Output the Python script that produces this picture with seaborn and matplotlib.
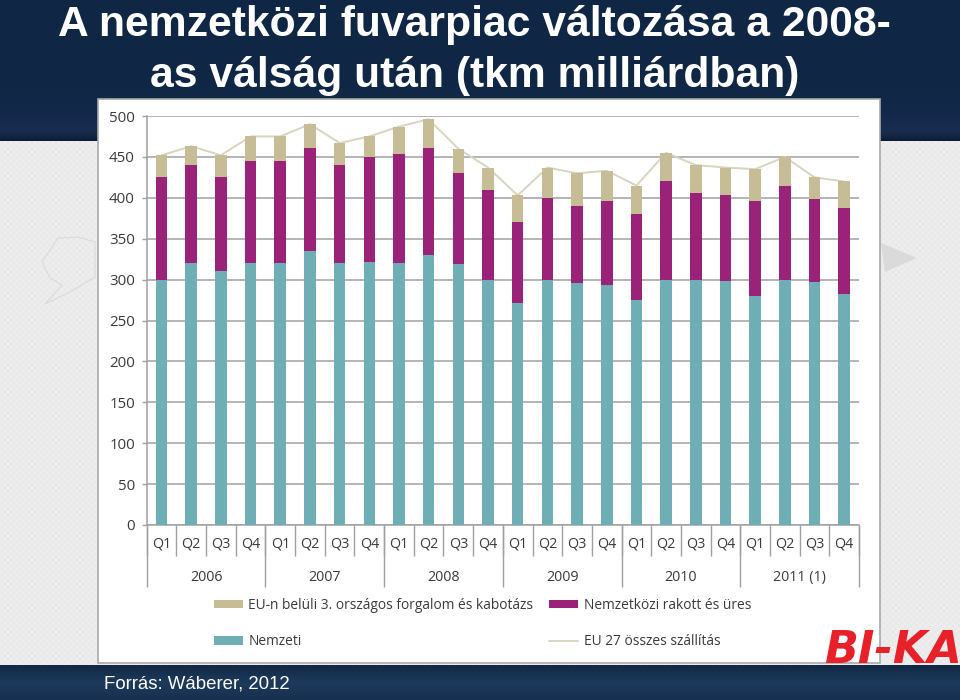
import numpy as np
import pandas as pd
import seaborn as sns
import matplotlib
matplotlib.use("Agg")
import matplotlib.pyplot as plt
from matplotlib.patches import Rectangle, Polygon

# chart values (tkm, cumulative tops)
years = ["2006", "2007", "2008", "2009", "2010", "2011 (1)"]
quarters = ["Q1", "Q2", "Q3", "Q4"]
nemzeti = [300, 320, 310, 320, 320, 335, 320, 322, 320, 330, 319, 300,
           271, 300, 296, 293, 275, 300, 300, 298, 280, 300, 297, 283]
nemzetkozi_top = [425, 440, 425, 445, 445, 461, 440, 450, 453, 461, 430, 410,
                  371, 400, 390, 396, 380, 420, 406, 403, 396, 415, 399, 388]
osszes = [452, 463, 452, 475, 475, 490, 467, 475, 487, 496, 460, 437,
          403, 437, 430, 433, 415, 455, 440, 437, 435, 450, 425, 420]
y_ticks = [0, 50, 100, 150, 200, 250, 300, 350, 400, 450, 500]

title_lines = ["A nemzetközi fuvarpiac változása a 2008-", "as válság után (tkm milliárdban)"]
source = "Forrás: Wáberer, 2012"

TEAL = "#6FAEB4"
PURPLE = "#9A2379"
TAN = "#C6BC95"
LINE = "#D8D5BE"
GRID = "#A0A0A0"
TXT = "#3A3A3A"

sns.set_theme(style="white")
plt.rcParams["font.family"] = ["Open Sans", "DejaVu Sans"]

df = pd.DataFrame({
    "negyedev": [f"{y} {q}" for y in years for q in quarters],
    "nemzeti": nemzeti,
    "nemzetkozi": np.array(nemzetkozi_top) - np.array(nemzeti),
    "kabotazs": np.array(osszes) - np.array(nemzetkozi_top),
    "osszes": osszes,
})

fig = plt.figure(figsize=(9.6, 7), dpi=100)

# slide background, in pixel coordinates
bg = fig.add_axes([0, 0, 1, 1])
bg.axis("off")
xx, yy = np.meshgrid(np.arange(960), np.arange(700))
tex = 235 + 4 * np.sin(xx * 2 * np.pi / 6) * np.sin(yy * 2 * np.pi / 6)
bg.imshow(tex, cmap="gray", vmin=0, vmax=255, extent=(0, 960, 700, 0), aspect="auto", zorder=0)
band_cmap = matplotlib.colors.LinearSegmentedColormap.from_list(
    "band", ["#0F2745", "#14294B", "#182E50", "#0D1C30"])
bottom_cmap = matplotlib.colors.LinearSegmentedColormap.from_list("band2", ["#122844", "#1D3A5C", "#17304F"])
ramp = np.linspace(0, 1, 140).reshape(-1, 1)
bg.imshow(ramp ** 6, cmap=band_cmap, extent=(0, 960, 141, 0), aspect="auto", zorder=1)
bg.imshow(ramp, cmap=bottom_cmap, extent=(0, 960, 700, 665), aspect="auto", zorder=1)
bg.set_xlim(0, 960)
bg.set_ylim(700, 0)
# faint map shapes of the template
bg.add_patch(Polygon([(881, 243), (917, 258), (905, 263), (885, 272)], fc="#DADADA", ec="none", zorder=1))
bg.add_patch(Polygon([(58, 238), (78, 237), (95, 242), (95, 277), (70, 292), (45, 304), (62, 285),
                      (50, 278), (42, 262)], fc="none", ec="#DADADA", lw=0.8, zorder=1))
bg.add_patch(Rectangle((97.5, 98.5), 782, 564, fc="white", ec="#A9A9A9", lw=1.2, zorder=2))

# title and footer
bg.text(474, 36, title_lines[0], color="white", fontsize=30.7, fontweight="bold",
        family="Liberation Sans", ha="center", va="baseline", zorder=5)
bg.text(475, 87, title_lines[1], color="white", fontsize=30.7, fontweight="bold",
        family="Liberation Sans", ha="center", va="baseline", zorder=5)
bg.text(104, 684, source, color="white", fontsize=13.4, family="Liberation Sans",
        ha="left", va="center", zorder=5)
bg.text(824, 663, "BI-KA", color="#E8202A", fontsize=32, fontweight="bold", style="italic",
        family="DejaVu Sans", ha="left", va="baseline", zorder=5, clip_on=True)

# chart
ax = fig.add_axes([146.7 / 960, 1 - 525 / 700, (859 - 146.7) / 960, 409 / 700])
ax.patch.set_alpha(0)

bar_kw = dict(width=0.39, saturation=1, linewidth=0, ax=ax, zorder=3)
sns.barplot(data=df, x="negyedev", y="nemzeti", color=TEAL, label="Nemzeti", **bar_kw)
sns.barplot(data=df, x="negyedev", y="nemzetkozi", bottom=df["nemzeti"], color=PURPLE,
            label="Nemzetközi rakott és üres", **bar_kw)
sns.barplot(data=df, x="negyedev", y="kabotazs", bottom=df["nemzeti"] + df["nemzetkozi"], color=TAN,
            label="EU-n belüli 3. országos forgalom és kabotázs", **bar_kw)
sns.lineplot(data=df, x="negyedev", y="osszes", color=LINE, lw=1.4, ax=ax,
             label="EU 27 összes szállítás", zorder=2.5)

ax.set_xlim(-0.5, 23.5)
ax.set_ylim(0, 500)
ax.set_xlabel("")
ax.set_ylabel("")
ax.set_yticks(y_ticks)
ax.set_xticks(range(24))
ax.set_xticklabels(quarters * 6)
ax.grid(axis="y", color=GRID, lw=1.1, zorder=0)
ax.set_axisbelow(True)
for side in ["top", "right"]:
    ax.spines[side].set_visible(False)
for side in ["left", "bottom"]:
    ax.spines[side].set_color(GRID)
    ax.spines[side].set_linewidth(1.1)
ax.tick_params(axis="y", length=3.5, width=1, color=GRID, labelsize=10.8, labelcolor=TXT, pad=5, left=True)
ax.tick_params(axis="x", which="major", length=0, labelsize=10.3, labelcolor=TXT, pad=8)

# two level category axis
ax.set_xticks(np.arange(-0.5, 24, 1), minor=True)
ax.tick_params(axis="x", which="minor", bottom=True, length=22.3, width=1, color=GRID)
sec = ax.secondary_xaxis("bottom")
sec.set_xticks(np.arange(-0.5, 24, 4))
sec.set_xticklabels([])
sec.tick_params(length=44.6, width=1, color=GRID)
sec.spines["bottom"].set_visible(False)
for i, year in enumerate(years):
    ax.annotate(year, (i * 4 + 1.5, 0), xytext=(0, -37.5), textcoords="offset points",
                xycoords=("data", "axes fraction"), ha="center", va="center", fontsize=10.3, color=TXT)

# legend order: tan, teal / purple, line (filled by column)
handles, labels = ax.get_legend_handles_labels()
by_label = dict(zip(labels, handles))
order = ["EU-n belüli 3. országos forgalom és kabotázs", "Nemzeti",
         "Nemzetközi rakott és üres", "EU 27 összes szállítás"]
ax.legend([by_label[k] for k in order], order, ncol=2, frameon=False, fontsize=9.9,
          labelcolor=TXT, loc="upper left", bbox_to_anchor=(214 / 960, 1 - 598 / 700),
          bbox_transform=fig.transFigure, borderpad=0, borderaxespad=0,
          handlelength=2.1, handleheight=0.55, handletextpad=0.4, labelspacing=1.55, columnspacing=1.15)

fig.savefig("out.png", dpi=100)
